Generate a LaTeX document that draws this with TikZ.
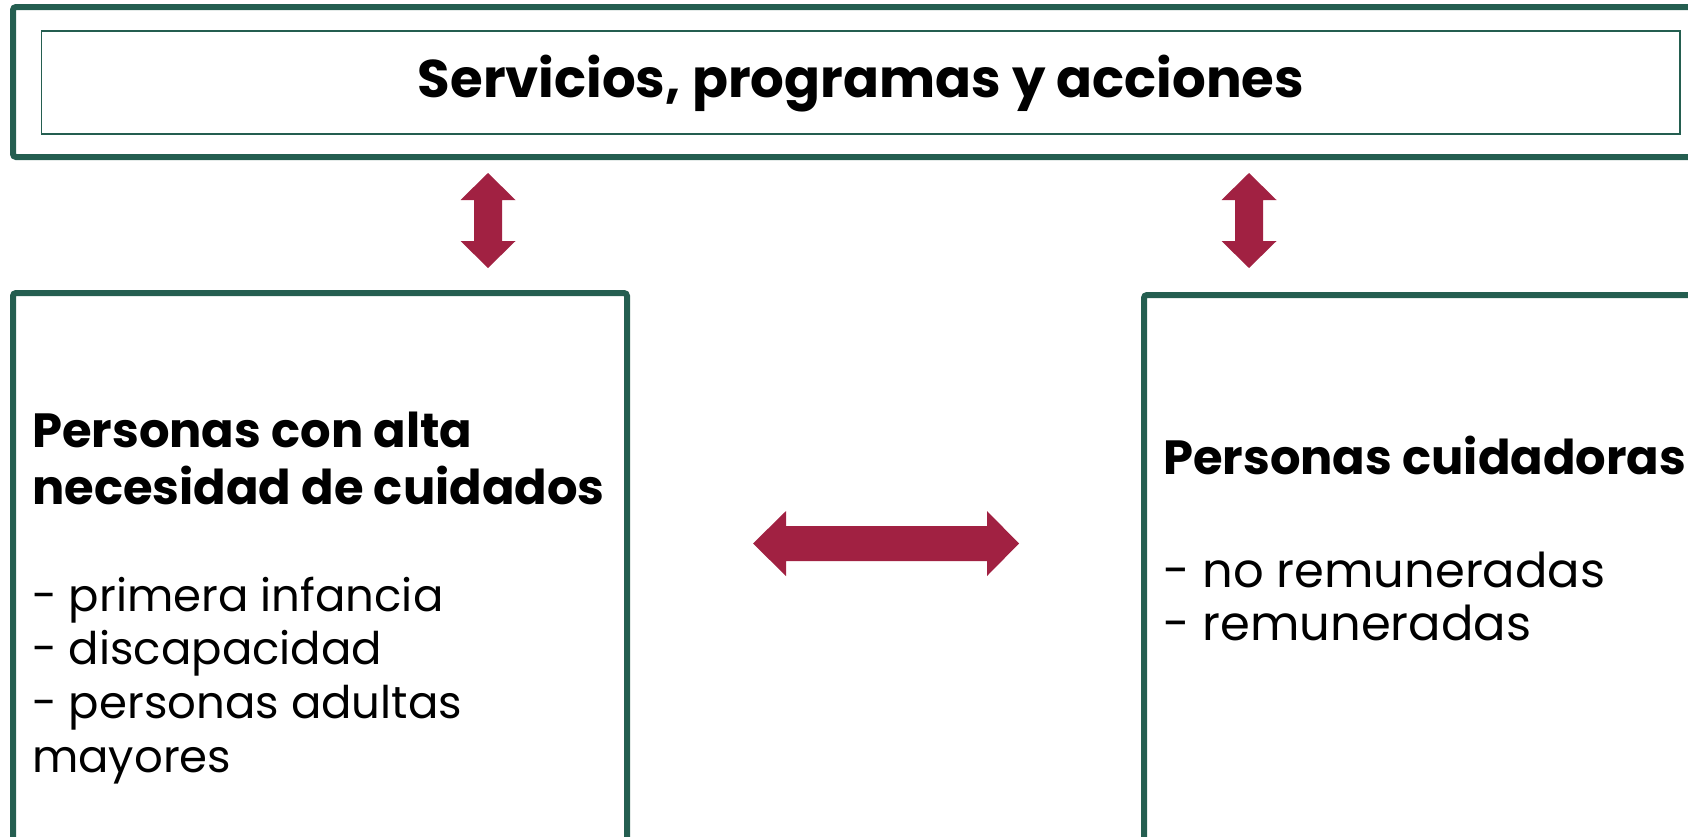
\documentclass[tikz,border=0pt]{standalone}
\usepackage{fontspec}
\setmainfont{Poppins}
\definecolor{boxgreen}{HTML}{245E50}
\definecolor{arrowred}{HTML}{A12142}
\tikzset{
  frame/.style={draw=boxgreen, line width=6pt, rounded corners=3pt, anchor=north west, inner sep=0pt, outer sep=0pt},
  thinframe/.style={draw=boxgreen, line width=1.6pt, anchor=north west, inner sep=0pt, outer sep=0pt},
  titletxt/.style={anchor=base, inner sep=0pt, font=\fontsize{53}{60}\selectfont\bfseries},
  boldtxt/.style={anchor=base west, inner sep=0pt, font=\fontsize{48}{57}\selectfont\bfseries},
  regtxtl/.style={anchor=base west, inner sep=0pt, font=\fontsize{45}{54}\selectfont},
  regtxtr/.style={anchor=base west, inner sep=0pt, font=\fontsize{48}{57}\selectfont},
  arrowfill/.style={fill=arrowred}
}
\begin{document}
\begin{tikzpicture}[x=1pt,y=-1pt]
\useasboundingbox (0,0) rectangle (1688,836);
\clip (0,0) rectangle (1688,836);
% top frame
\node[frame, minimum width=1720pt, minimum height=150pt] (top) at (13,7) {};
\node[thinframe, minimum width=1638.5pt, minimum height=103pt] (inner) at (41.5,31) {};
\node[titletxt] (title) at (861,97) {Servicios, programas y acciones};
% lower frames
\node[frame, minimum width=614pt, minimum height=700pt] (left) at (13,293) {};
\node[frame, minimum width=700pt, minimum height=700pt] (right) at (1144,295) {};
% left texts
\node[boldtxt] (l1) at (32,447) {Personas con alta};
\node[boldtxt] (l2) at (32,504) {necesidad de cuidados};
\node[regtxtl] (l3) at (32,611) {- primera infancia};
\node[regtxtl] (l4) at (32,664) {- discapacidad};
\node[regtxtl] (l5) at (32,718) {- personas adultas};
\node[regtxtl] (l6) at (32,772) {mayores};
% right texts
\node[boldtxt] (r1) at (1163,474) {Personas cuidadoras};
\node[regtxtr] (r2) at (1163,587) {- no remuneradas};
\node[regtxtr] (r3) at (1163,640) {- remuneradas};
% vertical arrows
\foreach \cx/\nm in {488/va, 1249/vb}{
  \coordinate (\nm) at (\cx,220.5);
  \fill[arrowfill] (\cx,173) -- (\cx+27.5,200) -- (\cx+14,200) -- (\cx+14,241) -- (\cx+27.5,241)
    -- (\cx,268) -- (\cx-27.5,241) -- (\cx-14,241) -- (\cx-14,200) -- (\cx-27.5,200) -- cycle;
}
% horizontal arrow
\coordinate (ha) at (886,543.5);
\fill[arrowfill] (753,543.5) -- (786,511) -- (786,526) -- (987,526) -- (987,511) -- (1019,543.5)
  -- (987,576) -- (987,561) -- (786,561) -- (786,576) -- cycle;
\end{tikzpicture}
\end{document}
